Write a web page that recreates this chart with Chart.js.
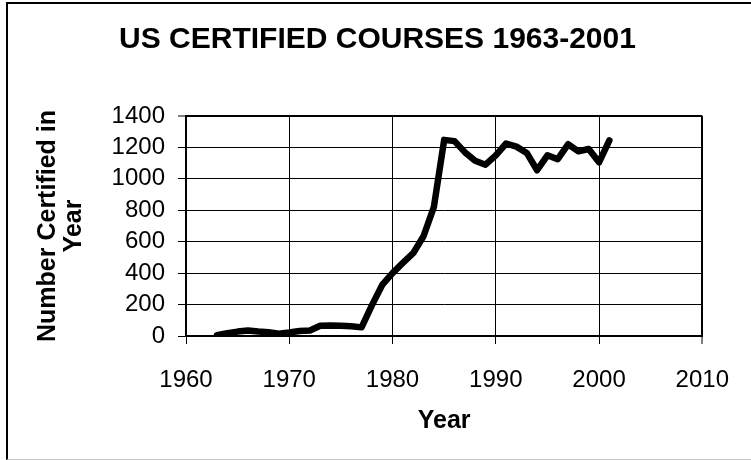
<!DOCTYPE html>
<html>
<head>
<meta charset="utf-8">
<script src="https://cdn.jsdelivr.net/npm/chart.js@4/dist/chart.umd.min.js"></script>
<style>
  body { margin: 0; background: #fff; }
  #wrap { position: relative; width: 751px; height: 460px; overflow: hidden; }
  #frame {
    position: absolute; left: 6px; top: 2px; width: 800px; height: 455px;
    border-left: 2px solid #000; border-top: 2px solid #000; border-bottom: 1px solid #c8c8c8;
    pointer-events: none;
  }
</style>
</head>
<body>
<div id="wrap">
  <canvas id="chart" width="751" height="460"></canvas>
  <div id="frame"></div>
</div>
<script>
const years = [1963, 1964, 1965, 1966, 1967, 1968, 1969, 1970, 1971, 1972,
  1973, 1974, 1975, 1976, 1977, 1978, 1979, 1980, 1981, 1982,
  1983, 1984, 1985, 1986, 1987, 1988, 1989, 1990, 1991, 1992,
  1993, 1994, 1995, 1996, 1997, 1998, 1999, 2000, 2001];
const courses = [5, 18, 28, 35, 28, 24, 15, 22, 32, 35,
  65, 67, 65, 62, 55, 195, 325, 400, 465, 527,
  635, 820, 1248, 1240, 1170, 1115, 1090, 1150, 1225, 1205,
  1165, 1055, 1150, 1125, 1220, 1175, 1190, 1105, 1245];
const xTicks = [1960, 1970, 1980, 1990, 2000, 2010];
const yTicks = [0, 200, 400, 600, 800, 1000, 1200, 1400];

const fam = "'Liberation Sans', Arial, sans-serif";
Chart.defaults.color = '#000';
Chart.defaults.font.family = fam;

const points = years.map((y, i) => ({ x: y, y: courses[i] }));

new Chart(document.getElementById('chart'), {
  type: 'line',
  data: {
    datasets: [{
      data: points,
      borderColor: '#000',
      borderWidth: 6.5,
      borderJoinStyle: 'round',
      borderCapStyle: 'round',
      pointRadius: 0,
      tension: 0,
      fill: false
    }]
  },
  options: {
    responsive: false,
    animation: false,
    layout: { padding: { left: 4, right: 0, top: 0, bottom: 0 } },
    plugins: {
      legend: { display: false },
      tooltip: { enabled: false },
      title: {
        display: true,
        text: 'US CERTIFIED COURSES 1963-2001',
        color: '#000',
        font: { size: 30, weight: 'bold', family: fam, lineHeight: 1.2 },
        padding: { top: 22, bottom: 58 }
      }
    },
    scales: {
      x: {
        type: 'linear',
        min: xTicks[0],
        max: xTicks[xTicks.length - 1],
        afterBuildTicks: s => { s.ticks = xTicks.map(v => ({ value: v })); },
        ticks: {
          font: { size: 24 },
          padding: 22,
          maxRotation: 0,
          autoSkip: false,
          callback: v => String(v)
        },
        grid: {
          color: '#000',
          lineWidth: c => (c.tick && c.tick.value === 2010 ? 2 : 1),
          tickLength: 8,
          tickColor: '#000',
          tickWidth: 1
        },
        border: { display: true, color: '#000', width: 2 },
        title: {
          display: true,
          text: 'Year',
          font: { size: 25, weight: 'bold', lineHeight: 1.2 },
          padding: { top: 0, bottom: 24 }
        },
        afterFit: s => { s.height = 124; }
      },
      y: {
        min: yTicks[0],
        max: yTicks[yTicks.length - 1],
        afterBuildTicks: s => { s.ticks = yTicks.map(v => ({ value: v })); },
        ticks: {
          font: { size: 24 },
          padding: 13,
          autoSkip: false,
          callback: v => String(v)
        },
        grid: {
          color: '#000',
          lineWidth: c => (c.tick && c.tick.value === 1400 ? 2 : 1),
          tickLength: 8,
          tickColor: '#000',
          tickWidth: 1
        },
        border: { display: true, color: '#000', width: 2 },
        title: {
          display: true,
          text: ['Number Certified in', 'Year'],
          font: { size: 25, weight: 'bold', lineHeight: 1.04 },
          padding: { top: 31, bottom: 0 }
        },
        afterFit: s => { s.width = 182; }
      },
      spacer: {
        axis: 'y',
        position: 'right',
        display: true,
        ticks: { display: false },
        grid: { display: false, drawTicks: false },
        border: { display: false },
        afterFit: s => { s.width = 44; }
      }
    }
  }
});
</script>
</body>
</html>
